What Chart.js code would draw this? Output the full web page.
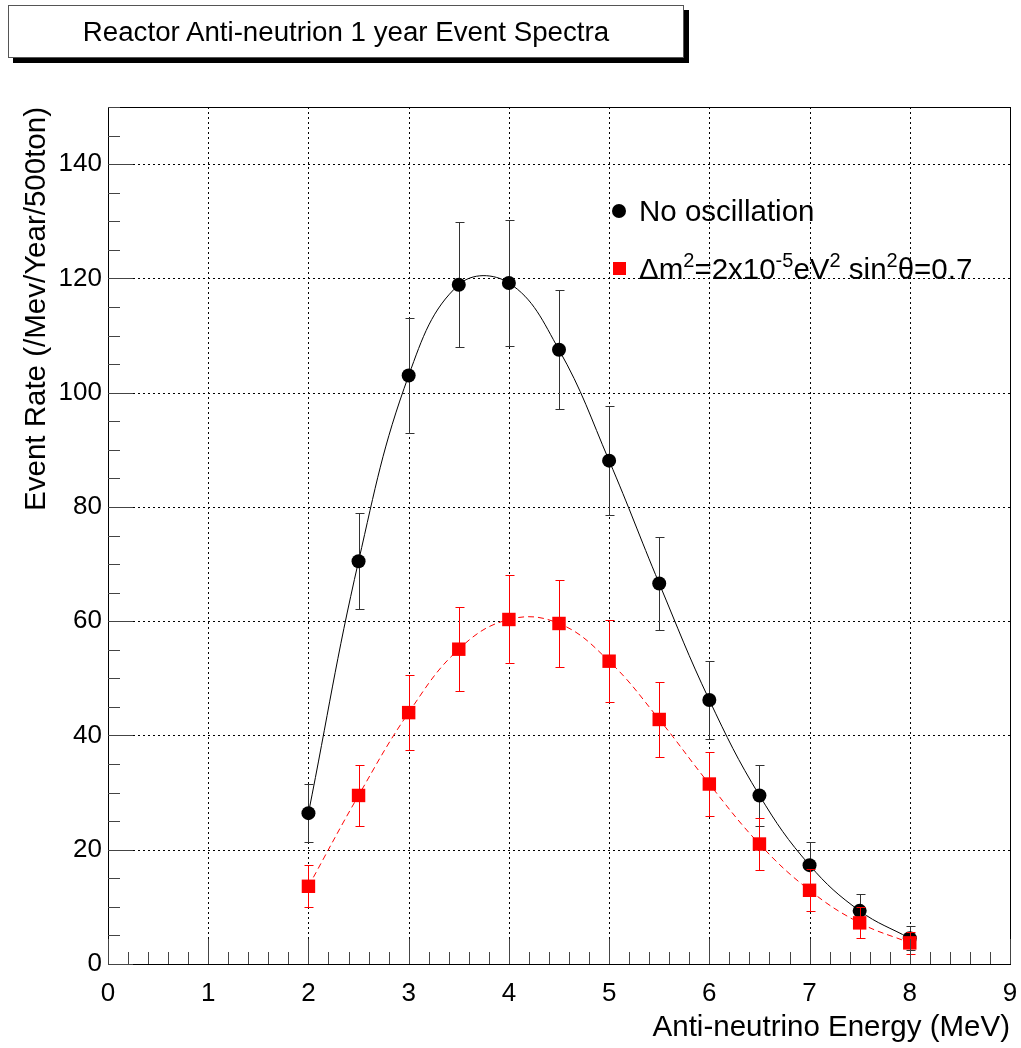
<!DOCTYPE html>
<html>
<head>
<meta charset="utf-8">
<script src="https://cdn.jsdelivr.net/npm/chart.js@4/dist/chart.umd.min.js"></script>
<style>
  html, body { margin: 0; padding: 0; background: #fff; }
  #wrap { position: relative; width: 1021px; height: 1048px; font-family: "Liberation Sans", Arial, sans-serif; }
  canvas { position: absolute; left: 0; top: 0; }
  #titlebox { position: absolute; left: 8px; top: 5px; width: 674px; height: 51px; border: 1px solid #555; background: #fff;
    box-shadow: 5px 5px 0 #000; font-size: 27.7px; line-height: 51px; text-align: center; color: #000; }
  .leg { position: absolute; font-size: 29.5px; line-height: 29px; color: #000; white-space: nowrap; }
  .leg sup { font-size: 20px; vertical-align: 0; position: relative; top: -12px; }
  #m1 { position: absolute; left: 612px; top: 204px; width: 14px; height: 14px; border-radius: 50%; background: #000; }
  #m2 { position: absolute; left: 613px; top: 262px; width: 13px; height: 13px; background: #ff0000; }
</style>
</head>
<body>
<div id="wrap">
  <canvas id="c" width="1021" height="1048"></canvas>
  <div id="titlebox">Reactor Anti-neutrion 1 year Event Spectra</div>
  <div id="m1"></div>
  <div class="leg" style="left:639px; top:196px;">No oscillation</div>
  <div id="m2"></div>
  <div class="leg" style="left:639px; top:254px;">&Delta;m<sup>2</sup>=2x10<sup>-5</sup>eV<sup>2</sup> sin<sup>2</sup>&theta;=0.7</div>
</div>
<script>
// ---- data ----
const energies = [2, 2.5, 3, 3.5, 4, 4.5, 5, 5.5, 6, 6.5, 7, 7.5, 8];
const noOscRate = [26.4, 70.5, 103.0, 118.9, 119.2, 107.5, 88.1, 66.6, 46.2, 29.5, 17.3, 9.3, 4.5];
const noOscErr  = [5.1, 8.4, 10.1, 10.9, 11.0, 10.4, 9.5, 8.1, 6.9, 5.4, 4.0, 3.0, 2.1];
const oscRate   = [13.6, 29.5, 44.0, 55.1, 60.3, 59.6, 53.0, 42.8, 31.5, 21.0, 12.9, 7.2, 3.7];
const oscErr    = [3.7, 5.4, 6.6, 7.4, 7.7, 7.6, 7.2, 6.5, 5.6, 4.6, 3.7, 2.7, 1.9];
const xTickValues = [0, 1, 2, 3, 4, 5, 6, 7, 8, 9];
const yTickValues = [0, 20, 40, 60, 80, 100, 120, 140];

const FONT = "'Liberation Sans', Arial, sans-serif";
const toXY = (ys) => energies.map((x, i) => ({ x: x, y: ys[i] }));

const errMap = { 0: noOscErr, 1: oscErr };
const errColors = { 0: '#333333', 1: '#ff0000' };

const framePlugin = {
  id: 'frame',
  beforeDatasetsDraw(chart) {
    const { ctx, chartArea: a, scales: { x, y } } = chart;
    ctx.save();
    ctx.strokeStyle = '#000';
    ctx.lineWidth = 1;
    ctx.setLineDash([2, 3]);
    xTickValues.forEach(v => {
      const px = Math.round(x.getPixelForValue(v)) + 0.5;
      ctx.beginPath(); ctx.moveTo(px, a.top); ctx.lineTo(px, a.bottom); ctx.stroke();
    });
    yTickValues.forEach(v => {
      const py = Math.round(y.getPixelForValue(v)) + 0.5;
      ctx.beginPath(); ctx.moveTo(a.left, py); ctx.lineTo(a.right, py); ctx.stroke();
    });
    ctx.restore();
  },
  beforeDatasetDraw(chart, args) {
    const errs = errMap[args.index];
    if (!errs) return;
    const { ctx, scales: { x, y } } = chart;
    const ds = chart.data.datasets[args.index];
    ctx.save();
    ctx.strokeStyle = errColors[args.index];
    ctx.lineWidth = 1;
    ds.data.forEach((p, i) => {
      const px = Math.round(x.getPixelForValue(p.x)) + 0.5;
      const yt = Math.round(y.getPixelForValue(p.y + errs[i])) + 0.5;
      const yb = Math.round(y.getPixelForValue(p.y - errs[i])) + 0.5;
      ctx.beginPath();
      ctx.moveTo(px, yt); ctx.lineTo(px, yb);
      ctx.moveTo(px - 4, yt); ctx.lineTo(px + 5, yt);
      ctx.moveTo(px - 4, yb); ctx.lineTo(px + 5, yb);
      ctx.stroke();
    });
    ctx.restore();
  },
  afterDraw(chart) {
    const { ctx, chartArea: a, scales: { x, y } } = chart;
    ctx.save();
    ctx.strokeStyle = '#000';
    ctx.lineWidth = 1;
    ctx.setLineDash([]);
    ctx.strokeRect(Math.round(a.left) + 0.5, Math.round(a.top) + 0.5, Math.round(a.right - a.left), Math.round(a.bottom - a.top));
    ctx.strokeStyle = '#444';
    // x ticks
    for (let k = 0; k <= 45; k++) {
      const v = k * 0.2;
      const px = Math.round(x.getPixelForValue(v)) + 0.5;
      const len = (k % 5 === 0) ? 25 : 12;
      ctx.beginPath(); ctx.moveTo(px, a.bottom); ctx.lineTo(px, a.bottom - len); ctx.stroke();
    }
    // y ticks
    for (let k = 0; k <= 30; k++) {
      const v = k * 5;
      const py = Math.round(y.getPixelForValue(v)) + 0.5;
      const len = (k % 4 === 0) ? 25 : 12;
      ctx.beginPath(); ctx.moveTo(a.left, py); ctx.lineTo(a.left + len, py); ctx.stroke();
    }
    ctx.restore();
  }
};

new Chart(document.getElementById('c'), {
  type: 'scatter',
  data: {
    datasets: [
      { label: 'No oscillation', data: toXY(noOscRate), showLine: false, pointStyle: 'circle', pointRadius: 7,
        pointBackgroundColor: '#000', pointBorderColor: '#000', pointBorderWidth: 0, order: 2 },
      { label: 'oscillation', data: toXY(oscRate), showLine: false, pointStyle: 'rect', pointRadius: 9.5,
        pointBackgroundColor: '#ff0000', pointBorderColor: '#ff0000', pointBorderWidth: 0, order: 1 },
      { label: 'fit1', data: toXY(noOscRate), showLine: true, tension: 0.4, pointRadius: 0, borderColor: '#000',
        borderWidth: 1, fill: false, order: 4 },
      { label: 'fit2', data: toXY(oscRate), showLine: true, tension: 0.4, pointRadius: 0, borderColor: '#ff0000',
        borderWidth: 1, borderDash: [6, 4], fill: false, order: 3 }
    ]
  },
  options: {
    responsive: false,
    animation: false,
    devicePixelRatio: 1,
    layout: { padding: { top: 107, right: 11, left: 0, bottom: 0 } },
    plugins: { legend: { display: false }, title: { display: false }, tooltip: { enabled: false } },
    events: [],
    scales: {
      x: {
        type: 'linear', min: 0, max: 9,
        afterFit(s) { s.height = 84; s.paddingLeft = 0; s.paddingRight = 0; },
        afterBuildTicks(s) { s.ticks = xTickValues.map(v => ({ value: v })); },
        grid: { display: false, drawTicks: false },
        border: { display: false },
        ticks: { color: '#000', font: { family: FONT, size: 26 }, padding: 14, maxRotation: 0,
          callback: v => String(v) },
        title: { display: true, text: 'Anti-neutrino Energy (MeV)', align: 'end', color: '#000',
          font: { family: FONT, size: 29.5 }, padding: { top: 0, bottom: 2 } }
      },
      y: {
        type: 'linear', min: 0, max: 150,
        afterFit(s) { s.width = 108; s.paddingTop = 0; s.paddingBottom = 0; },
        afterBuildTicks(s) { s.ticks = yTickValues.map(v => ({ value: v })); },
        grid: { display: false, drawTicks: false },
        border: { display: false },
        ticks: { color: '#000', font: { family: FONT, size: 26 }, padding: 6, callback: v => String(v) },
        title: { display: true, text: 'Event Rate (/Mev/Year/500ton)', align: 'end', color: '#000',
          font: { family: FONT, size: 29.5 }, padding: { top: 19, bottom: 0 } }
      }
    }
  },
  plugins: [framePlugin]
});
</script>
</body>
</html>
